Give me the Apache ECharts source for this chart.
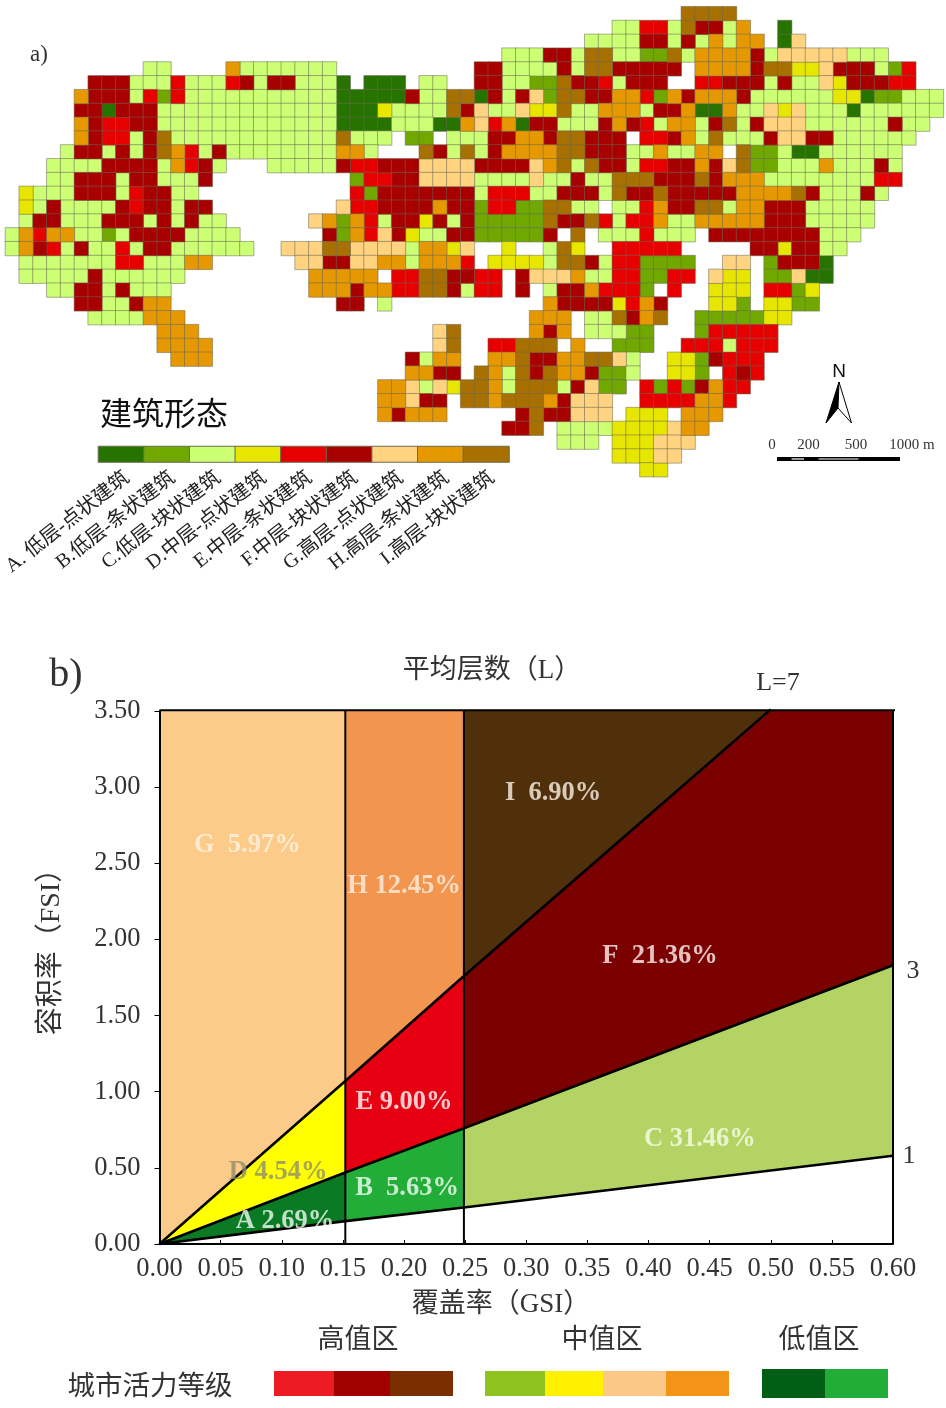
<!DOCTYPE html>
<html>

	<head>
		<meta charset="UTF-8">
		<title>建筑形态与城市活力</title>
		<script src="https://cdn.jsdelivr.net/npm/echarts@6/dist/echarts.min.js"></script>
		<style>
			html, body { margin: 0; padding: 0; background: #fff; }
		</style>
	</head>

	<body>
		<div style="width:946px;height:1408px" id="main"></div>
		<script>
			// a) 网格地图：每行一个字符串，字母为建筑形态，点为空格（每 10 列一组）
			var gridRows = [
				".......... .......... .......... .......... .........I III",
				".......... .......... .......... .......... ....CCEECI FFCH..A...",
				".......... .......... .......... .......... ..CCCCFFCF CHCHH.AG..",
				".......... .......... .......... ......CCCF FCIICCBBIC HHHHFCGGGG GCCC",
				".......... CC....HCCC CCCC...... ....FFCCCC FCIIFFFFF. HHHHFIIDDG FFFCBE",
				"......FFFC CCECCCEFCF FCCCA.AAA. CC..FFCCBB IFFECFFF.. EEFFFCFCCG DFFFEE",
				".....HFFFC EBECCCCCCC CCCCAAAAAF CCIIAFCFGB IIFFHHEBHF HHHFCCCCCC DDABBCCC",
				".....FFAFF FCCCCCCCCC CCCCAAADCC CCIFGCCGDD ICCHHHCFFH AAHCCGDGCC CACCCCCC",
				".....HFEEF FCCCCCCCCC CCCCAAAACC CAAHGEHAFF CCCFHFECHH CFICFGGGCC CCCCFCC",
				".....HFEEC FICCCCCCCC CCCCICCC.B B.CCCFFHHF IIFFF.EEFH CICCCFGGFF CCCCCC",
				"....CFFCFC FIHECFCCCC CCCCHHC... IFCICFHHHH IIFFFCCHCC HH.IBBCAAC CCCCC",
				"...CCCCFFF FCHEFC...C CCCCFEEFFF GGGGFFFFGH ICIFFCEEFF HFGIBBCCCH CCCFC",
				"...CCFFFCF FCCCF..... .....BEEFF GGGGCCCCGC CFCCIIIFFF IFHHHCCCCC CCCEE",
				".DCCCFFFCE FFCC...... .....EBFFF FFFFCEEECC FFFCIFFIFF FFFHHHHIFC CCFC",
				".DCFCCCCFE FFCFF..... ....GEEFFF FHFFBEEBBI ICC.CCEHFF IICHHFFFCC CCC",
				".CFFCCCFFF CFCFCC.... ..GHBHECFF DFCFBBBBBI FFIECEEHCC HHHHHFFFCC CCC",
				"CHEHHCCBCF FFFCCCC... ...FBHEGFD CCFFBBBBBF .I.CCCECCC .FFFFFFFFC CC",
				"CHFECFCCEC FFCCCCCC.. GGGIIGGGGC HHDG..D..C ID..EEEEE. ....FFDFFC C",
				".CCCCCCCEE CCCHH..... .GGFFGGHHC HHHE.DDDDC IIFCEEBBBB ..GG.BFFFA",
				".CCCCCFCCC CCC....... ..HHHHH.EE IIFFEE.FGG GHCCEEBBEE .GDD.BBGAA",
				"...CCFFCFC CC........ ..HHHFHHEE IIFCEE.F.C FFHEEEB.E. .DDD.EEBD.",
				".....FFCCF HH........ ....FF.C.. .........H FFFFDEHF.. .DDB.DDBB.",
				"......CCCC HHH....... .......... ........HH H.CCIFHI.. BBBBBDD...",
				".......... .HHH...... .......... .GI.....HF H.CCCBB... BEEEEE....",
				".......... .HHHH..... .......... .GI..EEIII .H..BBB..E EECEEE....",
				".......... ..HHH..... .........F CHH..HHIFF HHIIGC..DD BFEEE.....",
				".......... .......... .........H HFF.IHCIFI HHFBBC..DD B.EFE.....",
				".......... .......... .......HHG CGDIIHCIII CFGBB.EBEB FHEE......",
				".......... .......... .......HHG FF.IIHIIIH FGGG..EEEE HHE.......",
				".......... .......... .......HFH HH.....FIF FGGG.DDD.H HH........",
				".......... .......... .......... ......FFI. CCCCDDDDGH H",
				".......... .......... .......... .......... CCC.DDDGGG",
				".......... .......... .......... .......... ....DDDGG.",
				".......... .......... .......... .......... ......DD.."
			];
			var gridCols = 68;

			var formKeys = ['A', 'B', 'C', 'D', 'E', 'F', 'G', 'H', 'I'];
			var formColors = ['#267300', '#70a800', '#ccff73', '#e6e600', '#e60000', '#a80000', '#ffd37f', '#e69800', '#a87000'];
			var formNames = ['A. 低层-点状建筑', 'B.低层-条状建筑', 'C.低层-块状建筑', 'D.中层-点状建筑', 'E.中层-条状建筑',
				'F.中层-块状建筑', 'G.高层-点状建筑', 'H.高层-条状建筑', 'I.高层-块状建筑'];

			// b) 覆盖率-容积率分区
			var lineL1 = [[0, 0], [0.152, 0.15], [0.249, 0.24], [0.6, 0.58]];
			var lineL3 = [[0, 0], [0.152, 0.47], [0.249, 0.76], [0.6, 1.83]];
			var lineL7 = [[0, 0], [0.152, 1.07], [0.249, 1.76], [0.5, 3.51]];
			var vertical15 = [[0.152, 0], [0.152, 3.5]];
			var vertical25 = [[0.249, 0], [0.249, 3.5]];
			var topEdge = [[0, 3.505], [0.6035, 3.505]];
			var rightEdge = [[0.6, 0], [0.6, 3.5]];

			var zonePolygons = [
				[[0, 0], [0.152, 1.07], [0.152, 3.5], [0, 3.5]],
				[[0.152, 1.07], [0.249, 1.76], [0.249, 3.5], [0.152, 3.5]],
				[[0.249, 1.76], [0.5, 3.5], [0.249, 3.5]],
				[[0.249, 0.76], [0.6, 1.83], [0.6, 3.5], [0.5, 3.5], [0.249, 1.76]],
				[[0.152, 0.47], [0.249, 0.76], [0.249, 1.76], [0.152, 1.07]],
				[[0, 0], [0.152, 0.47], [0.152, 1.07]],
				[[0, 0], [0.152, 0.15], [0.152, 0.47]],
				[[0.152, 0.15], [0.249, 0.24], [0.249, 0.76], [0.152, 0.47]],
				[[0.249, 0.24], [0.6, 0.58], [0.6, 1.83], [0.249, 0.76]]
			];
			var zoneColors = ['#fccb8a', '#f2954f', '#50300a', '#7b0000', '#e60012', '#ffff00', '#0b7a25', '#22ac38', '#b3d465'];
			var zoneLabels = ['G  5.97%', 'H 12.45%', 'I  6.90%', 'F  21.36%', 'E 9.00%', 'D 4.54%', 'A 2.69%', 'B  5.63%', 'C 31.46%'];
			var zoneLabelX = [0.0718, 0.2, 0.322, 0.4094, 0.2, 0.097, 0.1027, 0.2025, 0.442];
			var zoneLabelY = [2.62, 2.35, 2.96, 1.89, 0.93, 0.47, 0.15, 0.365, 0.69];
			var zoneLabelColors = ['#fff3e2', '#fff0e2', '#fbf3e8', '#fff2f2', '#ffffff', '#8f8f6a', '#f0fbf0', '#f4fdf4', '#f8fce8'];

			var vitalityHigh = ['#ed1c24', '#a00000', '#7b2f00'];
			var vitalityMid = ['#8fc31f', '#fff100', '#fcc888', '#f39418'];
			var vitalityLow = ['#005e15', '#22ac38'];

			var serif = '"Liberation Serif", "Noto Sans CJK SC", serif';

			function range(n) {
				var out = [];
				for (var i = 0; i < n; i++) out.push(i);
				return out;
			}

			function text(str, x, y, size, opts) {
				opts = opts || {};
				return {
					type: 'text',
					x: x,
					y: y,
					rotation: opts.rotation || 0,
					z: 20,
					style: {
						text: str,
						x: 0,
						y: 0,
						align: 'center',
						verticalAlign: 'middle',
						font: size + 'px ' + (opts.font || serif),
						fill: opts.color || '#333'
					}
				};
			}

			function rect(x, y, w, h, color) {
				return {
					type: 'rect',
					z: 10,
					shape: { x: x, y: y, width: w, height: h },
					style: { fill: color }
				};
			}

			var series = [];

			// 地图格子，每种形态一个 heatmap（第三维是 heatmap 必须有的 value）
			formKeys.forEach(function(key, k) {
				var cells = [];
				gridRows.forEach(function(row, r) {
					var chars = row.split(' ').join('');
					for (var c = 0; c < chars.length; c++) {
						if (chars.charAt(c) === key) cells.push([c, r, k]);
					}
				});
				series.push({
					name: formNames[k],
					type: 'heatmap',
					xAxisIndex: 0,
					yAxisIndex: 0,
					progressive: 0,
					data: cells,
					itemStyle: { color: formColors[k], borderColor: 'rgba(105,105,85,0.65)', borderWidth: 0.8 }
				});
				// 图例色条
				series.push({
					name: formNames[k] + ' legend',
					type: 'heatmap',
					xAxisIndex: 1,
					yAxisIndex: 1,
					progressive: 0,
					data: [[k, 0, k]],
					itemStyle: { color: formColors[k], borderColor: '#6b6b50', borderWidth: 1 }
				});
			});

			// b) 分区色块
			series.push({
				type: 'custom',
				xAxisIndex: 2,
				yAxisIndex: 2,
				clip: true,
				z: 2,
				data: range(zonePolygons.length),
				renderItem: function(params, api) {
					var idx = api.value(0);
					return {
						type: 'polygon',
						shape: { points: zonePolygons[idx].map(function(p) { return api.coord(p); }) },
						style: { fill: zoneColors[idx], stroke: null }
					};
				}
			});

			// 分区线
			[lineL1, lineL3, lineL7, vertical15, vertical25, topEdge, rightEdge].forEach(function(line, i) {
				series.push({
					type: 'line',
					xAxisIndex: 2,
					yAxisIndex: 2,
					z: 3,
					symbol: 'none',
					silent: true,
					clip: false,
					data: line,
					lineStyle: { color: '#000', width: i < 3 ? 2.6 : 2 }
				});
			});

			// 分区文字
			series.push({
				type: 'scatter',
				xAxisIndex: 2,
				yAxisIndex: 2,
				z: 4,
				symbolSize: 0,
				silent: true,
				data: zoneLabels.map(function(str, i) {
					return {
						value: [zoneLabelX[i], zoneLabelY[i]],
						label: {
							show: true,
							position: 'inside',
							formatter: str,
							color: zoneLabelColors[i],
							fontFamily: serif,
							fontWeight: 'bold',
							fontSize: 26.5
						}
					};
				})
			});

			// 其他文字、图例、比例尺、指北针
			var elements = [
				text('a)', 39, 55, 23),
				text('建筑形态', 164, 417, 32, { color: '#111' }),
				text('N', 839, 372, 19, { font: '"Liberation Sans", sans-serif', color: '#111' }),
				text('0', 772, 445, 15),
				text('200', 808.5, 445, 15),
				text('500', 856, 445, 15),
				text('1000 m', 912, 445, 15),
				text('b)', 66, 675, 40),
				text('平均层数（L）', 492, 671, 27),
				text('L=7', 778, 683, 26),
				text('1', 909, 1156, 26),
				text('3', 913, 971, 26),
				text('容积率（FSI）', 52, 945, 28, { rotation: Math.PI / 2 }),
				text('覆盖率（GSI）', 501, 1305, 27),
				text('高值区', 358, 1341, 27),
				text('中值区', 602, 1341, 27),
				text('低值区', 819, 1341, 27),
				text('城市活力等级', 150, 1388, 27.5),
				// 指北针
				{ type: 'polygon', z: 10, shape: { points: [[839, 382], [826, 423], [838, 408]] }, style: { fill: '#000', stroke: '#000', lineWidth: 1 } },
				{ type: 'polygon', z: 10, shape: { points: [[839, 382], [851.5, 423], [838, 408]] }, style: { fill: '#fff', stroke: '#000', lineWidth: 1 } },
				// 比例尺
				rect(777, 457, 123, 4, '#000'),
				rect(791.5, 458.4, 12.5, 1.2, '#fff'),
				rect(818.5, 458.4, 40, 1.2, '#fff')
			];

			function swatches(colors, xs, y, h) {
				colors.forEach(function(color, i) {
					elements.push(rect(xs[i], y, xs[i + 1] - xs[i], h, color));
				});
			}
			swatches(vitalityHigh, [274, 334, 390, 453], 1371, 25);
			swatches(vitalityMid, [485, 545, 603, 666, 729], 1371, 25);
			swatches(vitalityLow, [762, 825, 888], 1369, 29);

			var hiddenAxis = { type: 'category', show: false };

			var myChart = echarts.init(document.getElementById('main'), null, { renderer: 'canvas' });
			myChart.setOption({
				animation: false,
				textStyle: { fontFamily: serif },
				grid: [
					{ left: 5.4, top: 6.7, width: 938, height: 470 },
					{ left: 95, top: 446.5, width: 414, height: 15.5 },
					{ left: 159.5, top: 711, width: 733.5, height: 533 }
				],
				xAxis: [
					Object.assign({}, hiddenAxis, { gridIndex: 0, data: range(gridCols) }),
					{
						type: 'category',
						gridIndex: 1,
						data: formNames,
						axisLine: { show: false },
						axisTick: { show: false },
						axisLabel: {
							interval: 0,
							rotate: 38,
							margin: 6,
							verticalAlign: 'top',
							fontSize: 20,
							color: '#222',
							fontFamily: serif
						}
					},
					{
						type: 'value',
						gridIndex: 2,
						min: 0,
						max: 0.6,
						interval: 0.05,
						z: 5,
						splitLine: { show: false },
						axisLine: { onZero: false, lineStyle: { color: '#000', width: 2 } },
						axisTick: { inside: true, length: 4, lineStyle: { color: '#000', width: 1 } },
						axisLabel: {
							margin: 12,
							fontSize: 26.5,
							color: '#333',
							fontFamily: serif,
							formatter: function(v) { return v.toFixed(2); }
						}
					}
				],
				yAxis: [
					Object.assign({}, hiddenAxis, { gridIndex: 0, inverse: true, data: range(gridRows.length) }),
					Object.assign({}, hiddenAxis, { gridIndex: 1, data: [0] }),
					{
						type: 'value',
						gridIndex: 2,
						min: 0,
						max: 3.5,
						interval: 0.5,
						z: 5,
						splitLine: { show: false },
						axisLine: { show: true, onZero: false, lineStyle: { color: '#000', width: 2 } },
						axisTick: { show: true, length: 5, lineStyle: { color: '#000', width: 1 } },
						axisLabel: {
							margin: 19,
							fontSize: 26.5,
							color: '#333',
							fontFamily: serif,
							padding: [4, 0, 0, 0],
							formatter: function(v) { return v.toFixed(2); }
						}
					}
				],
				series: series,
				graphic: { elements: elements }
			});
		</script>
	</body>

</html>
